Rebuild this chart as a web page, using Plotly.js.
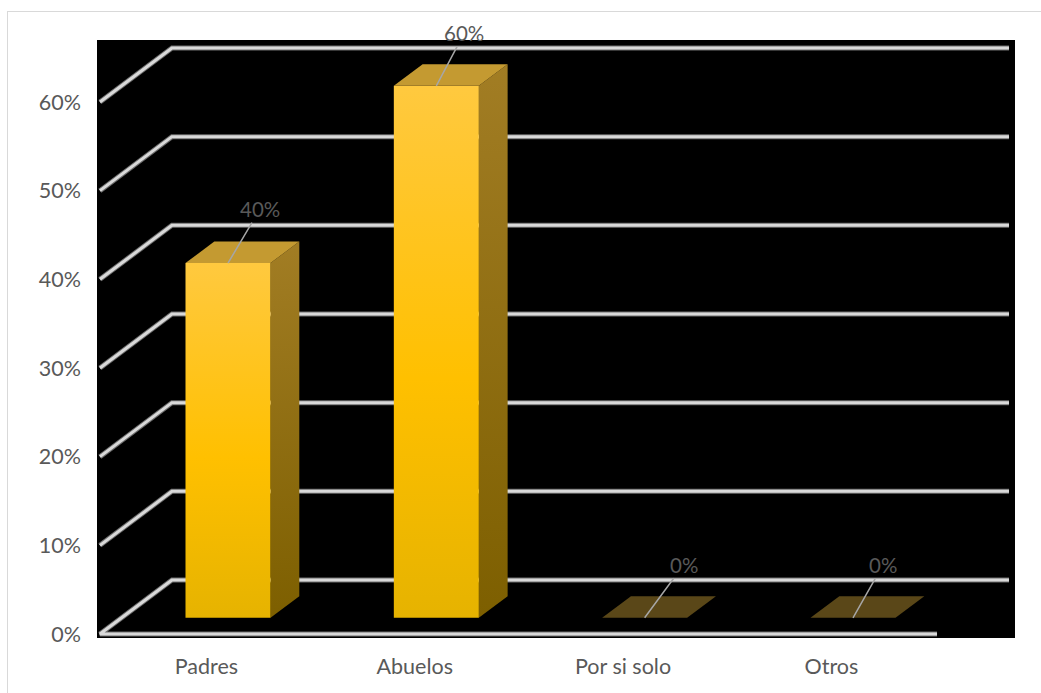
<!DOCTYPE html>
<html>
<head>
<meta charset="utf-8">
<script src="https://cdn.plot.ly/plotly-3.0.1.min.js"></script>
<style>
  html, body { margin: 0; padding: 0; background: #ffffff; }
  #wrap { position: relative; width: 1041px; height: 693px; overflow: hidden; }
  #chart { position: absolute; left: 0; top: 0; width: 1041px; height: 693px; }
  #frame { position: absolute; left: 7px; top: 11px; width: 1040px; height: 700px;
           border: 1px solid #d9d9d9; box-sizing: border-box; pointer-events: none; }
</style>
</head>
<body>
<div id="wrap">
  <div id="chart"></div>
  <div id="frame"></div>
</div>
<script>
// ---- data ----
const categories = ['Padres', 'Abuelos', 'Por si solo', 'Otros'];
const values = [0.40, 0.60, 0.00, 0.00];
const yTicks = [0, 0.1, 0.2, 0.3, 0.4, 0.5, 0.6];

// ---- oblique projection (styling of the pseudo-3D view) ----
const DX = 0.3456;     // depth shift along x (category units)
const DY = 0.0609;     // depth shift along y (value units)
const X_LEFT = -0.511; // front-left corner of floor
const X_RIGHT = 3.507; // front-right corner of floor
const HALF_W = 0.204;  // half bar width
const D_FRONT = 0.3, D_BACK = 0.7;

function proj(x, v, d) { return [x + d * DX, v + d * DY]; }

const traces = [];

// gridlines (walls & floor)
const gx = [], gy = [];
yTicks.forEach(function (v) {
  if (v === 0) {
    gx.push(X_RIGHT, X_LEFT, X_LEFT + DX, X_RIGHT + DX, null);
    gy.push(0, 0, DY, DY, null);
  } else {
    gx.push(X_LEFT, X_LEFT + DX, X_RIGHT + DX, null);
    gy.push(v, v + DY, v + DY, null);
  }
});
traces.push({ x: gx, y: gy, mode: 'lines', line: { color: '#6e6e6e', width: 5 },
  hoverinfo: 'skip', showlegend: false, connectgaps: false });
traces.push({ x: gx, y: gy, mode: 'lines', line: { color: '#d9d9d9', width: 3 },
  hoverinfo: 'skip', showlegend: false, connectgaps: false });

// bars
categories.forEach(function (c, i) {
  const v = values[i];
  const xl = i - HALF_W, xr = i + HALF_W;
  const fbl = proj(xl, 0, D_FRONT), fbr = proj(xr, 0, D_FRONT);
  const ftl = proj(xl, v, D_FRONT), ftr = proj(xr, v, D_FRONT);
  const bbr = proj(xr, 0, D_BACK), btl = proj(xl, v, D_BACK), btr = proj(xr, v, D_BACK);
  if (v > 0) {
    // side face
    traces.push({ x: [fbr[0], bbr[0], btr[0], ftr[0], fbr[0]], y: [fbr[1], bbr[1], btr[1], ftr[1], fbr[1]],
      mode: 'lines', line: { width: 0 }, fill: 'toself',
      fillgradient: { type: 'vertical', colorscale: [[0, '#7d5f00'], [1, '#a27d24']] },
      hoverinfo: 'skip', showlegend: false });
    // front face
    traces.push({ x: [fbl[0], fbr[0], ftr[0], ftl[0], fbl[0]], y: [fbl[1], fbr[1], ftr[1], ftl[1], fbl[1]],
      mode: 'lines', line: { width: 0 }, fill: 'toself',
      fillgradient: { type: 'vertical', colorscale: [[0, '#e6b300'], [0.45, '#ffc000'], [1, '#ffc93f']] },
      hoverinfo: 'skip', showlegend: false });
  }
  // top face
  traces.push({ x: [ftl[0], ftr[0], btr[0], btl[0], ftl[0]], y: [ftl[1], ftr[1], btr[1], btl[1], ftl[1]],
    mode: 'lines', line: { width: 0 }, fill: 'toself',
    fillcolor: v > 0 ? '#c49a31' : '#5a4718',
    hoverinfo: 'skip', showlegend: false });
});

// data labels with leader lines
const labelOffsets = [[32, -54], [28, -53], [39, -53], [30, -53]];
const annotations = categories.map(function (c, i) {
  const p = proj(i, values[i], D_FRONT);
  return {
    x: p[0], y: p[1], xref: 'x', yref: 'y',
    text: Math.round(values[i] * 100) + '%',
    showarrow: true, arrowhead: 0, arrowwidth: 1.5, arrowcolor: '#a6a6a6',
    ax: labelOffsets[i][0], ay: labelOffsets[i][1], standoff: 0,
    font: { family: 'Lato, "Open Sans", sans-serif', size: 20.5, color: '#595959' }
  };
});

const layout = {
  width: 1041, height: 693,
  margin: { l: 97, r: 26, t: 40, b: 55, pad: 0 },
  paper_bgcolor: 'rgba(0,0,0,0)',
  plot_bgcolor: '#000000',
  showlegend: false,
  font: { family: 'Lato, "Open Sans", sans-serif', size: 21.5, color: '#595959' },
  xaxis: {
    range: [-0.5251, 3.8813], showgrid: false, zeroline: false, showline: false,
    tickmode: 'array', tickvals: categories.map(function (c, i) { return i; }), ticktext: categories,
    ticks: '', ticklabelstandoff: 13, fixedrange: true
  },
  yaxis: {
    range: [-0.00451, 0.6699], showgrid: false, zeroline: false, showline: false,
    tickmode: 'array', tickvals: yTicks, tickformat: '.0%',
    ticks: '', ticklabelstandoff: 15, fixedrange: true
  },
  annotations: annotations
};

Plotly.newPlot('chart', traces, layout, { staticPlot: true, displayModeBar: false });
</script>
</body>
</html>
